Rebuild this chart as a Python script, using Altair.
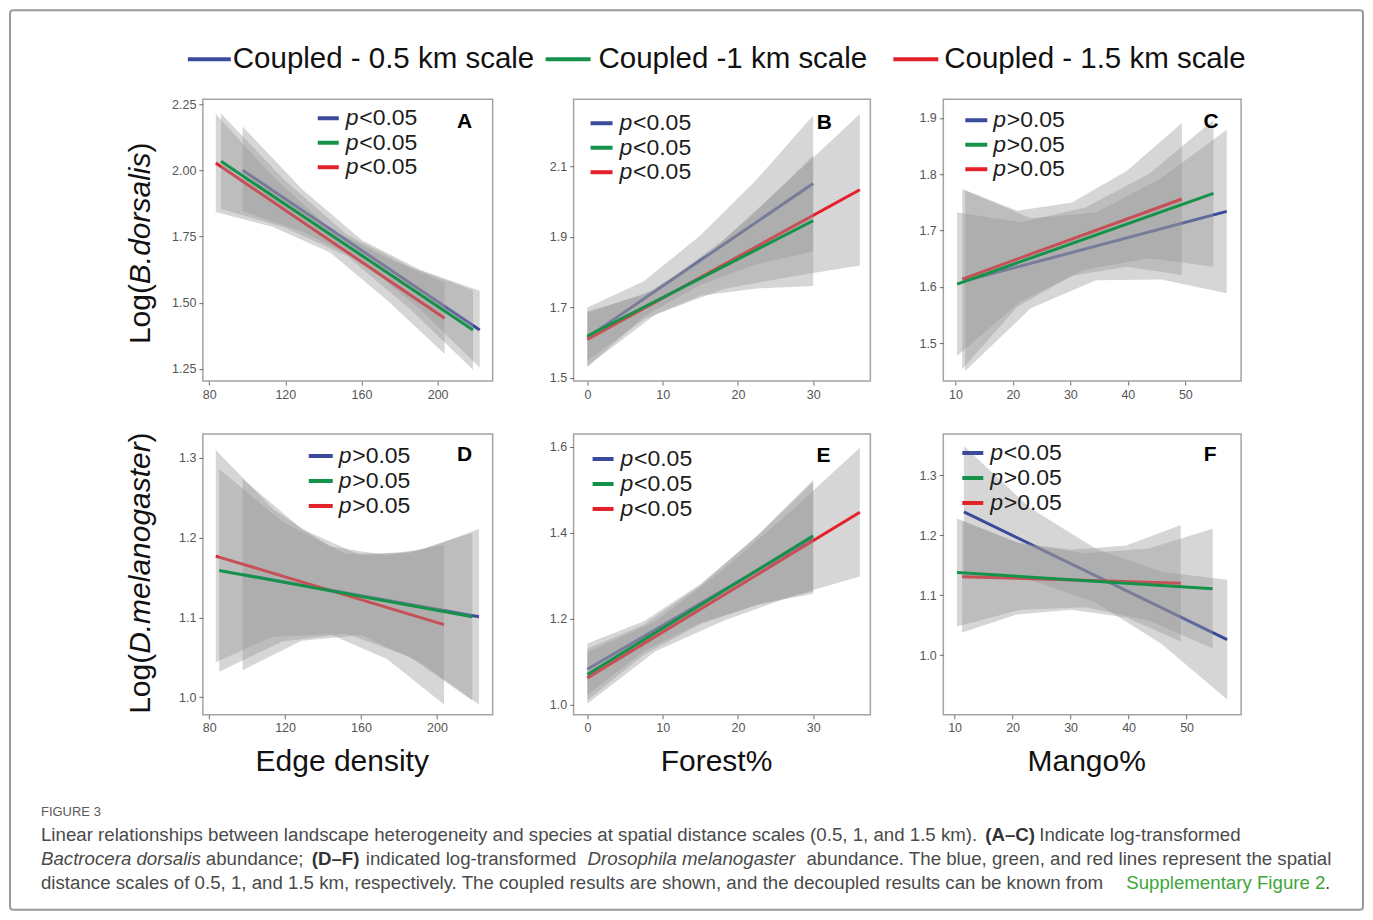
import altair as alt
import pandas as pd

FONT = "Liberation Sans"

# ---------------- series ----------------
SERIES = ["Coupled - 0.5 km scale", "Coupled -1 km scale", "Coupled - 1.5 km scale"]
SERIES_COLORS = ["#3B4A9A", "#15924A", "#E4202A"]
DRAW_ORDER = [0, 2, 1]  # blue, red, green (green on top)

# ---------------- Panel A : Edge density vs Log(B. dorsalis) ----------------
A_line_x = [[97.6, 222.1], [86.2, 218.6], [83.5, 203.7]]
A_line_y = [[2.000, 1.397], [2.034, 1.397], [2.027, 1.441]]
A_band_x = [[97.6, 128.7, 159.9, 191.0, 222.1], [86.2, 119.3, 152.4, 185.5, 218.6], [83.5, 113.55, 143.6, 173.65, 203.7]]
A_band_lo = [[1.845, 1.769, 1.658, 1.473, 1.255], [1.854, 1.785, 1.676, 1.476, 1.247], [1.842, 1.786, 1.689, 1.508, 1.306]]
A_band_hi = [[2.165, 1.929, 1.738, 1.623, 1.545], [2.214, 1.965, 1.756, 1.636, 1.547], [2.212, 1.976, 1.779, 1.668, 1.576]]
A_pvals = ["<0.05", "<0.05", "<0.05"]
A_xticks = [80, 120, 160, 200]
A_yticks = [1.25, 1.50, 1.75, 2.00, 2.25]

# ---------------- Panel B : Forest% vs Log(B. dorsalis) ----------------
B_line_x = [[0, 30], [0, 30], [0, 36.2]]
B_line_y = [[1.615, 2.052], [1.619, 1.946], [1.609, 2.034]]
B_band_x = [[0, 7.5, 15, 22.5, 30], [0, 7.5, 15, 22.5, 30], [0, 9.05, 18.1, 27.15, 36.2]]
B_band_lo = [[1.530, 1.674, 1.764, 1.823, 1.859], [1.549, 1.666, 1.733, 1.754, 1.761], [1.534, 1.680, 1.752, 1.788, 1.819]]
B_band_hi = [[1.700, 1.774, 1.904, 2.063, 2.245], [1.689, 1.736, 1.833, 1.974, 2.131], [1.684, 1.750, 1.892, 2.068, 2.249]]
B_pvals = ["<0.05", "<0.05", "<0.05"]
B_xticks = [0, 10, 20, 30]
B_yticks = [1.5, 1.7, 1.9, 2.1]

# ---------------- Panel C : Mango% vs Log(B. dorsalis) ----------------
C_line_x = [[11.7, 57.2], [10.3, 54.9], [11.2, 49.4]]
C_line_y = [[1.611, 1.734], [1.605, 1.766], [1.614, 1.756]]
C_band_x = [[11.7, 23.1, 34.45, 45.8, 57.2], [10.3, 21.45, 32.6, 43.75, 54.9], [11.2, 20.75, 30.3, 39.85, 49.4]]
C_band_lo = [[1.451, 1.562, 1.612, 1.613, 1.589], [1.478, 1.575, 1.631, 1.651, 1.636], [1.454, 1.565, 1.620, 1.636, 1.621]]
C_band_hi = [[1.771, 1.722, 1.732, 1.793, 1.879], [1.732, 1.715, 1.741, 1.801, 1.896], [1.774, 1.735, 1.750, 1.806, 1.891]]
C_pvals = [">0.05", ">0.05", ">0.05"]
C_xticks = [10, 20, 30, 40, 50]
C_yticks = [1.5, 1.6, 1.7, 1.8, 1.9]

# ---------------- Panel D : Edge density vs Log(D. melanogaster) ----------------
D_line_x = [[97.6, 222.1], [85.3, 218.6], [83.5, 203.7]]
D_line_y = [[1.154, 1.101], [1.159, 1.101], [1.177, 1.091]]
D_band_x = [[97.6, 128.7, 159.9, 191.0, 222.1], [85.3, 118.6, 151.95, 185.3, 218.6], [83.5, 113.55, 143.6, 173.65, 203.7]]
D_band_lo = [[1.034, 1.071, 1.078, 1.044, 0.991], [1.032, 1.070, 1.080, 1.051, 0.996], [1.044, 1.076, 1.079, 1.048, 0.991]]
D_band_hi = [[1.274, 1.211, 1.178, 1.184, 1.211], [1.286, 1.220, 1.180, 1.181, 1.206], [1.310, 1.236, 1.189, 1.178, 1.191]]
D_pvals = [">0.05", ">0.05", ">0.05"]
D_xticks = [80, 120, 160, 200]
D_yticks = [1.0, 1.1, 1.2, 1.3]

# ---------------- Panel E : Forest% vs Log(D. melanogaster) ----------------
E_line_x = [[0, 30], [0, 30], [0, 36.2]]
E_line_y = [[1.082, 1.388], [1.070, 1.393], [1.062, 1.448]]
E_band_x = [[0, 7.5, 15, 22.5, 30], [0, 7.5, 15, 22.5, 30], [0, 9.05, 18.1, 27.15, 36.2]]
E_band_lo = [[1.022, 1.124, 1.190, 1.232, 1.258], [1.010, 1.116, 1.187, 1.232, 1.263], [1.002, 1.124, 1.195, 1.252, 1.298]]
E_band_hi = [[1.142, 1.194, 1.280, 1.392, 1.518], [1.130, 1.186, 1.277, 1.392, 1.523], [1.122, 1.194, 1.315, 1.452, 1.598]]
E_pvals = ["<0.05", "<0.05", "<0.05"]
E_xticks = [0, 10, 20, 30]
E_yticks = [1.0, 1.2, 1.4, 1.6]

# ---------------- Panel F : Mango% vs Log(D. melanogaster) ----------------
F_line_x = [[11.6, 57.0], [10.4, 54.5], [11.3, 49.0]]
F_line_y = [[1.239, 1.026], [1.138, 1.111], [1.131, 1.120]]
F_band_x = [[11.6, 22.95, 34.3, 45.65, 57.0], [10.4, 21.45, 32.45, 43.5, 54.5], [11.3, 20.7, 30.15, 39.6, 49.0]]
F_band_lo = [[1.129, 1.126, 1.088, 1.019, 0.926], [1.048, 1.076, 1.080, 1.058, 1.011], [1.038, 1.068, 1.076, 1.063, 1.023]]
F_band_hi = [[1.349, 1.246, 1.178, 1.139, 1.126], [1.228, 1.186, 1.170, 1.178, 1.211], [1.224, 1.188, 1.176, 1.183, 1.217]]
F_pvals = ["<0.05", ">0.05", ">0.05"]
F_xticks = [10, 20, 30, 40, 50]
F_yticks = [1.0, 1.1, 1.2, 1.3]

# ---------------- text ----------------
X_TITLES = ["Edge density", "Forest%", "Mango%"]
Y_TITLE_1 = ["Log(", "B.dorsalis", ")"]
Y_TITLE_2 = ["Log(", "D.melanogaster", ")"]
CAPTION_HEAD = "FIGURE 3"
CAP_L1 = ["Linear relationships between landscape heterogeneity and species at spatial distance scales (0.5, 1, and 1.5 km).",
          "(A\u2013C)", "Indicate log-transformed"]
CAP_L2 = ["Bactrocera dorsalis", "abundance;", "(D\u2013F)", "indicated log-transformed", "Drosophila melanogaster",
          "abundance. The blue, green, and red lines represent the spatial"]
CAP_L3 = ["distance scales of 0.5, 1, and 1.5 km, respectively. The coupled results are shown, and the decoupled results can be known from",
          "Supplementary Figure 2", "."]

# ---------------- styling / layout ----------------
TICK_C = "#6b6b6b"
LAB_C = "#555555"
BAND_FILL = "#999999"
TXT_C = "#1c1c1c"
CAP_C = "#4a4a4a"
COLW = [194, 290, 81, 297, 73, 298]
ROWH = [37, 282, 281, 130]
LEG_FS = 23
TRANSP = alt.ViewBackground(stroke="transparent")


def one(v):
    return pd.DataFrame({"t": [v]})


def text_layer(s, x, y, size, color=TXT_C, style="normal", weight="normal", align="left", angle=0):
    kw = dict(font=FONT, fontSize=size, color=color, fontStyle=style, fontWeight=weight,
              align=align, baseline="middle")
    if angle:
        kw["angle"] = angle
    return alt.Chart(one(s)).mark_text(**kw).encode(text="t:N", x=alt.value(x), y=alt.value(y))


def panel(letter, line_x, line_y, band_x, band_lo, band_hi, pvals, xdom, ydom, xticks, yticks, yfmt,
          w, h, sw, tx, rows, lpos, xtitle=None):
    xax = dict(values=xticks, format="d", grid=False, domain=False, tickSize=4, tickColor=TICK_C,
               labelColor=LAB_C, labelFontSize=12.5, labelFont=FONT, labelPadding=3)
    if xtitle:
        xax.update(title=xtitle, titleFontSize=30, titleFont=FONT, titleFontWeight="normal",
                   titleColor="#111111", titlePadding=12, titleX=w / 2 - 6)
    else:
        xax.update(title=None)
    yax = dict(values=yticks, format=yfmt, grid=False, domain=False, tickSize=4, tickColor=TICK_C,
               labelColor=LAB_C, labelFontSize=12.5, labelFont=FONT, labelPadding=3, title=None)
    xs = alt.Scale(domain=xdom, nice=False, zero=False)
    ys = alt.Scale(domain=ydom, nice=False, zero=False)
    layers = []
    for i in DRAW_ORDER:
        bdf = pd.DataFrame({"x": band_x[i], "lo": band_lo[i], "hi": band_hi[i]})
        layers.append(alt.Chart(bdf).mark_area(color=BAND_FILL, opacity=0.4, clip=True).encode(
            x=alt.X("x:Q", scale=xs, axis=alt.Axis(**xax)),
            y=alt.Y("lo:Q", scale=ys, axis=alt.Axis(**yax)),
            y2="hi:Q"))
        ldf = pd.DataFrame({"x": line_x[i], "y": line_y[i], "s": [SERIES[i]] * len(line_x[i])})
        layers.append(alt.Chart(ldf).mark_line(color=SERIES_COLORS[i], strokeWidth=3, clip=True).encode(
            x=alt.X("x:Q", scale=xs, axis=alt.Axis(**xax)),
            y=alt.Y("y:Q", scale=ys, axis=alt.Axis(**yax))))
    for k in range(3):
        layers.append(alt.Chart(one(SERIES[k])).mark_rule(color=SERIES_COLORS[k], strokeWidth=4).encode(
            x=alt.value(sw[0]), x2=alt.value(sw[1]), y=alt.value(rows[k])))
        layers.append(text_layer("p", tx, rows[k], LEG_FS, style="italic"))
        layers.append(text_layer(pvals[k], tx + 13.5, rows[k], LEG_FS))
    layers.append(text_layer(letter, lpos[0], lpos[1], 21, color="#000000", weight="bold", align="center"))
    return alt.layer(*layers).properties(width=w, height=h)


def empty(w, h):
    # an invisible placeholder cell whose only mark has no extent
    return alt.Chart(one("")).mark_rule(strokeWidth=0, opacity=0).encode(
        x=alt.value(0), x2=alt.value(1), y=alt.value(0)).properties(width=w, height=h, view=TRANSP)


pA = panel("A", A_line_x, A_line_y, A_band_x, A_band_lo, A_band_hi, A_pvals, [76.7, 228.9], [1.204, 2.268],
           A_xticks, A_yticks, ".2f", COLW[1], ROWH[1], (115, 136), 143, [19, 43.5, 68], (262, 23))
pB = panel("B", B_line_x, B_line_y, B_band_x, B_band_lo, B_band_hi, B_pvals, [-1.83, 37.6], [1.491, 2.291],
           B_xticks, B_yticks, ".1f", COLW[3], ROWH[1], (17, 39), 46, [24, 48.5, 73], (251, 24))
pC = panel("C", C_line_x, C_line_y, C_band_x, C_band_lo, C_band_hi, C_pvals, [7.9, 59.7], [1.433, 1.933],
           C_xticks, C_yticks, ".1f", COLW[5], ROWH[1], (22, 44), 50, [21, 45.5, 70], (268, 23))
pD = panel("D", D_line_x, D_line_y, D_band_x, D_band_lo, D_band_hi, D_pvals, [76.7, 229.3], [0.978, 1.330],
           D_xticks, D_yticks, ".1f", COLW[1], ROWH[2], (106, 130), 136, [22, 47, 72], (262, 21), X_TITLES[0])
pE = panel("E", E_line_x, E_line_y, E_band_x, E_band_lo, E_band_hi, E_pvals, [-1.83, 37.6], [0.976, 1.630],
           E_xticks, E_yticks, ".1f", COLW[3], ROWH[2], (19, 40), 47, [25, 50, 75], (250, 22), X_TITLES[1])
pF = panel("F", F_line_x, F_line_y, F_band_x, F_band_lo, F_band_hi, F_pvals, [8.05, 59.4], [0.9005, 1.369],
           F_xticks, F_yticks, ".1f", COLW[5], ROWH[2], (19, 40), 47, [19, 44, 69], (267, 21), X_TITLES[2])

# header legend
hdr_layers = []
for k, (sx0, sx1, tx) in enumerate([(179, 222, 224), (537, 582, 590), (885, 930, 936)]):
    hdr_layers.append(alt.Chart(one(SERIES[k])).mark_rule(color=SERIES_COLORS[k], strokeWidth=4).encode(
        x=alt.value(sx0), x2=alt.value(sx1), y=alt.value(50)))
    hdr_layers.append(text_layer(SERIES[k], tx, 50, 29.5, color="#111111"))
header = alt.layer(*hdr_layers).properties(width=COLW[0], height=ROWH[0], view=TRANSP)

# y titles (rotated)
yt1 = alt.layer(
    text_layer(Y_TITLE_1[0], 132, 245, 30, color="#111111", angle=270),
    text_layer(Y_TITLE_1[1], 132, 185, 30, color="#111111", style="italic", angle=270),
    text_layer(Y_TITLE_1[2], 132, 53.3, 30, color="#111111", angle=270),
).properties(width=COLW[0], height=ROWH[1], view=TRANSP)
yt2 = alt.layer(
    text_layer(Y_TITLE_2[0], 132, 280, 30, color="#111111", angle=270),
    text_layer(Y_TITLE_2[1], 132, 220, 30, color="#111111", style="italic", angle=270),
    text_layer(Y_TITLE_2[2], 132, 8.6, 30, color="#111111", angle=270),
).properties(width=COLW[0], height=ROWH[2], view=TRANSP)

# caption (with the figure's outer frame drawn as decoration)
CS = 18.7
frame = alt.Chart(one("frame")).mark_rect(fill="transparent", stroke="#9a9a9a", strokeWidth=2,
                                          cornerRadius=3).encode(
    x=alt.value(1), x2=alt.value(1355), y=alt.value(-758), y2=alt.value(142))
cap = alt.layer(
    frame,
    text_layer(CAPTION_HEAD, 32, 44, 13, color="#5a5a5a"),
    text_layer(CAP_L1[0], 32, 67, CS, color=CAP_C),
    text_layer(CAP_L1[1], 977, 67, CS, color="#333333", weight="bold"),
    text_layer(CAP_L1[2], 1031, 67, CS, color=CAP_C),
    text_layer(CAP_L2[0], 32, 91, CS, color=CAP_C, style="italic"),
    text_layer(CAP_L2[1], 197, 91, CS, color=CAP_C),
    text_layer(CAP_L2[2], 303, 91, CS, color="#333333", weight="bold"),
    text_layer(CAP_L2[3], 357, 91, CS, color=CAP_C),
    text_layer(CAP_L2[4], 579, 91, CS, color=CAP_C, style="italic"),
    text_layer(CAP_L2[5], 798, 91, CS, color=CAP_C),
    text_layer(CAP_L3[0], 32, 115, CS, color=CAP_C),
    text_layer(CAP_L3[1], 1118, 115, CS, color="#3DA63A"),
    text_layer(CAP_L3[2], 1317, 115, CS, color=CAP_C),
).properties(width=COLW[0], height=ROWH[3], view=TRANSP)

cells = [header] + [empty(COLW[c], 1) for c in range(1, 6)]
cells += [yt1, pA, empty(COLW[2], ROWH[1]), pB, empty(COLW[4], ROWH[1]), pC]
cells += [yt2, pD, empty(COLW[2], ROWH[2]), pE, empty(COLW[4], ROWH[2]), pF]
cells += [cap] + [empty(COLW[c], 1) for c in range(1, 6)]

chart = alt.concat(*cells, columns=6, spacing={"row": 53, "column": 0}, bounds="flush").properties(
    padding=0
).configure_view(stroke="#a3a3a3", strokeWidth=1.5)

chart.save("out.html", embed_options={"renderer": "svg", "actions": False})
